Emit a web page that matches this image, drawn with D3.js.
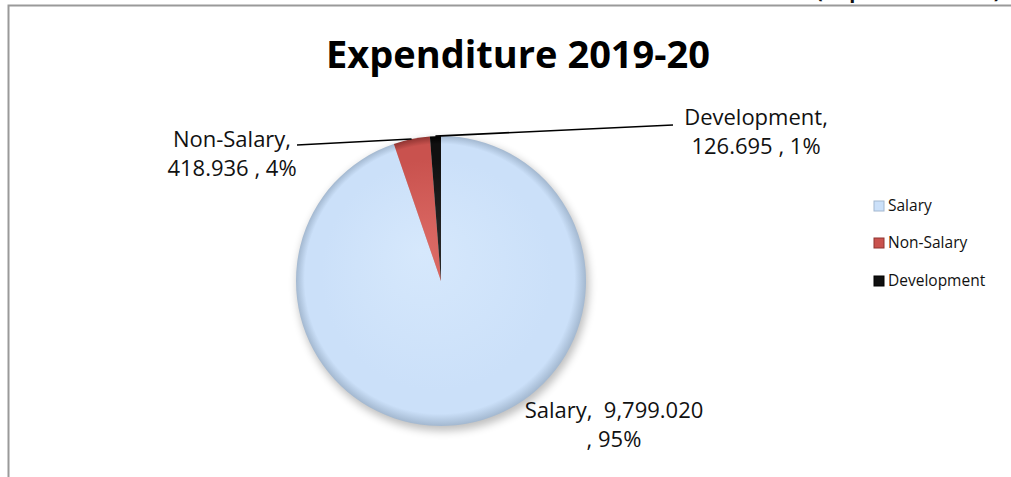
<!DOCTYPE html>
<html>
<head>
<meta charset="utf-8">
<script src="https://cdn.jsdelivr.net/npm/d3@7"></script>
<style>
  html, body { margin: 0; padding: 0; background: #fff; }
  svg { display: block; }
</style>
</head>
<body>
<svg id="chart" width="1011" height="477"></svg>
<script>
// Expenditure breakdown, 2019-20 (Rupees in Million)
const categories = ["Salary", "Non-Salary", "Development"];
const values = [9799.020, 418.936, 126.695];
const colors = ["#cbe0f9", "#c9524e", "#101010"];
const edgeColors = ["#a3b8d0", "#8f3431", "#000000"];
const centerColors = ["#d6e8fc", "#dc6a65", "#2a2a2a"];

const W = 1011, H = 477;
const svg = d3.select("#chart");
const defs = svg.append("defs");

// frame
svg.append("path")
  .attr("d", `M8.5,${H} L8.5,5.5 L${W},5.5`)
  .attr("fill", "none").attr("stroke", "#9a9a9a").attr("stroke-width", 2);

// unit note at the top right, running off the top edge
svg.append("text")
  .attr("x", 816).attr("y", -2)
  .attr("font-family", "Open Sans, sans-serif").attr("font-weight", "bold")
  .attr("font-size", 20).attr("fill", "#111")
  .text("(Rupees in Million)");

// title
svg.append("text")
  .attr("x", 518).attr("y", 68)
  .attr("text-anchor", "middle")
  .attr("font-family", "Open Sans, sans-serif").attr("font-weight", "bold")
  .attr("font-size", 38).attr("fill", "#000")
  .text("Expenditure 2019-20");

const cx = 441, cy = 281, R = 145;
const total = d3.sum(values);
const fmt = d3.format(",.3f");

const pie = d3.pie().sort(null).value(d => d)(values);
const arc = d3.arc().innerRadius(0).outerRadius(R);

// soft drop shadow beneath the pie
const blur = defs.append("filter").attr("id", "shadow")
  .attr("x", "-20%").attr("y", "-20%").attr("width", "140%").attr("height", "140%");
blur.append("feGaussianBlur").attr("stdDeviation", 4);

// radial shading per slice, centred on the pie group origin
categories.forEach((c, i) => {
  const g = defs.append("radialGradient")
    .attr("id", "grad" + i)
    .attr("gradientUnits", "userSpaceOnUse")
    .attr("cx", 0).attr("cy", 0).attr("r", R)
    .attr("fx", -20).attr("fy", -30);
  g.append("stop").attr("offset", "0%").attr("stop-color", centerColors[i]);
  g.append("stop").attr("offset", "80%").attr("stop-color", colors[i]);
  g.append("stop").attr("offset", "93%").attr("stop-color", colors[i]);
  g.append("stop").attr("offset", "100%").attr("stop-color", edgeColors[i]);
});

const pieG = svg.append("g").attr("transform", `translate(${cx},${cy})`);

pieG.append("circle")
  .attr("cx", 2).attr("cy", 4).attr("r", R + 1)
  .attr("fill", "#000").attr("opacity", 0.25)
  .attr("filter", "url(#shadow)");

pieG.selectAll("path.slice")
  .data(pie)
  .enter().append("path")
  .attr("class", "slice")
  .attr("d", arc)
  .attr("fill", (d, i) => `url(#grad${i})`);

// data labels
const pct = v => Math.round(v / total * 100) + "%";
const labelLines = [
  [categories[0] + ",  " + fmt(values[0]), ", " + pct(values[0])],
  [categories[1] + ",", fmt(values[1]) + " , " + pct(values[1])],
  [categories[2] + ",", fmt(values[2]) + " , " + pct(values[2])]
];
const labelPos = [
  { x: 614, y: 418 },
  { x: 232, y: 147 },
  { x: 756, y: 125 }
];
const leaderEnd = [null, { x: 297, y: 145 }, { x: 673, y: 125 }];

const labelFont = 22, lineGap = 29;
labelLines.forEach((lines, i) => {
  const t = svg.append("text")
    .attr("text-anchor", "middle")
    .attr("font-family", "Open Sans, sans-serif")
    .attr("font-size", labelFont).attr("fill", "#111")
    .style("white-space", "pre");
  lines.forEach((ln, k) => {
    t.append("tspan").attr("x", labelPos[i].x).attr("y", labelPos[i].y + k * lineGap).text(ln);
  });
});

// leader lines from slice edge to label
pie.forEach((d, i) => {
  if (!leaderEnd[i]) return;
  const a = (d.startAngle + d.endAngle) / 2;
  const x0 = cx + R * Math.sin(a), y0 = cy - R * Math.cos(a);
  svg.append("line")
    .attr("x1", x0).attr("y1", y0)
    .attr("x2", leaderEnd[i].x).attr("y2", leaderEnd[i].y)
    .attr("stroke", "#000").attr("stroke-width", 1.6);
});

// legend
const legend = svg.append("g").attr("transform", "translate(874,0)");
const legendY = [211, 248, 286];
categories.forEach((c, i) => {
  legend.append("rect")
    .attr("x", 0).attr("y", legendY[i] - 10).attr("width", 10).attr("height", 10)
    .attr("fill", colors[i])
    .attr("stroke", edgeColors[i]).attr("stroke-width", 1);
  legend.append("text")
    .attr("x", 14).attr("y", legendY[i])
    .attr("font-family", "Open Sans, sans-serif")
    .attr("font-size", 15.5).attr("fill", "#111")
    .text(c);
});
</script>
</body>
</html>
